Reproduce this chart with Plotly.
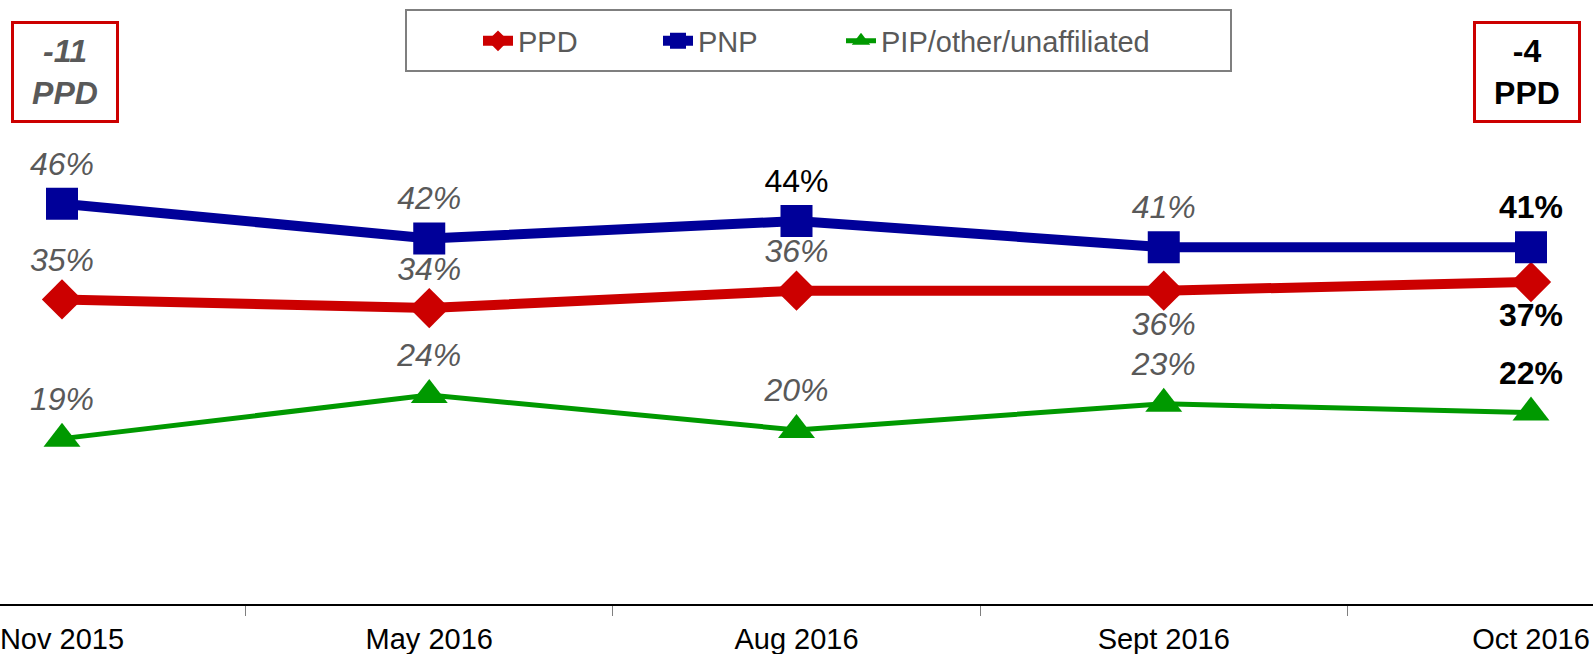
import plotly.graph_objects as go

categories = ["Nov 2015", "May 2016", "Aug 2016", "Sept 2016", "Oct 2016"]
ppd = [35, 34, 36, 36, 37]
pnp = [46, 42, 44, 41, 41]
other = [19, 24, 20, 23, 22]
ppd_text_pos = ["top center", "top center", "top center", "bottom center", "bottom center"]
ppd_label_style = ["italic", "italic", "italic", "italic", "bold"]
pnp_label_style = ["italic", "italic", "plain", "italic", "bold"]
other_label_style = ["italic", "italic", "italic", "italic", "bold"]
box_left = ["-11", "PPD"]
box_right = ["-4", "PPD"]

GRAY = "#595959"
FONT = "Liberation Sans, Arial, sans-serif"


def labels(vals, styles):
    out = []
    for v, s in zip(vals, styles):
        if s == "bold":
            out.append(f"<b>{v}%</b>")
        elif s == "italic":
            out.append(f"<i>{v}%</i>")
        else:
            out.append(f"{v}%")
    return out


def colors(styles):
    return [GRAY if s == "italic" else "black" for s in styles]


fig = go.Figure()
fig.add_trace(go.Scatter(
    x=categories, y=ppd, name="PPD", mode="lines+markers+text",
    line=dict(color="#CC0000", width=10),
    marker=dict(symbol="diamond", size=31, color="#CC0000"),
    text=labels(ppd, ppd_label_style), textposition=ppd_text_pos,
    textfont=dict(size=32, color=colors(ppd_label_style), family=FONT),
    legendwidth=135,
))
fig.add_trace(go.Scatter(
    x=categories, y=pnp, name="PNP", mode="lines+markers+text",
    line=dict(color="#000099", width=10),
    marker=dict(symbol="square", size=32, color="#000099"),
    text=labels(pnp, pnp_label_style), textposition="top center",
    textfont=dict(size=32, color=colors(pnp_label_style), family=FONT),
    legendwidth=138,
))
fig.add_trace(go.Scatter(
    x=categories, y=other, name="PIP/other/unaffiliated", mode="lines+markers+text",
    line=dict(color="#009900", width=5),
    marker=dict(symbol="triangle-up", size=32, color="#009900"),
    text=labels(other, other_label_style), textposition="top center",
    textfont=dict(size=32, color=colors(other_label_style), family=FONT),
))

W, H, B = 1593, 654, 50
PH = H - B

fig.add_annotation(
    x=65 / W, y=1 - 72 / PH, xref="paper", yref="paper",
    text="<br>".join(f"<b><i>{t}</i></b>" for t in box_left),
    showarrow=False, xanchor="center", yanchor="middle",
    font=dict(size=32, color=GRAY, family=FONT),
    bordercolor="#CC0000", borderwidth=3, bgcolor="white",
    width=100, height=94,
)
fig.add_annotation(
    x=1527 / W, y=1 - 72 / PH, xref="paper", yref="paper",
    text="<br>".join(f"<b>{t}</b>" for t in box_right),
    showarrow=False, xanchor="center", yanchor="middle",
    font=dict(size=32, color="black", family=FONT),
    bordercolor="#CC0000", borderwidth=3, bgcolor="white",
    width=100, height=94,
)

# legend frame
fig.add_shape(
    type="rect", xref="paper", yref="paper",
    x0=406 / W, x1=1231 / W, y0=1 - 71 / PH, y1=1 - 10 / PH,
    line=dict(color="#7f7f7f", width=2), fillcolor="white", layer="below",
)

fig.update_layout(
    width=W, height=H,
    margin=dict(l=0, r=0, t=0, b=B),
    plot_bgcolor="rgba(0,0,0,0)", paper_bgcolor="white",
    font=dict(family=FONT),
    showlegend=True,
    legend=dict(
        orientation="h", x=478 / W, xanchor="left", y=1 - 41 / PH, yanchor="middle",
        font=dict(size=29, color=GRAY, family=FONT),
        borderwidth=0, bgcolor="rgba(0,0,0,0)",
    ),
    xaxis=dict(
        type="category", range=[-62 / 367.25, 4 + 62 / 367.25],
        showline=True, linecolor="black", linewidth=2,
        tickson="boundaries", ticks="outside", ticklen=10, tickcolor="#7f7f7f", tickwidth=1,
        showgrid=False, zeroline=False, ticklabelstandoff=8,
        tickfont=dict(size=29, color="black", family=FONT),
    ),
    yaxis=dict(range=[0, 69.4], visible=False, showgrid=False, zeroline=False),
)

fig.write_html("out.html", config={"displayModeBar": False},
               post_script="document.body.style.margin='0';")
